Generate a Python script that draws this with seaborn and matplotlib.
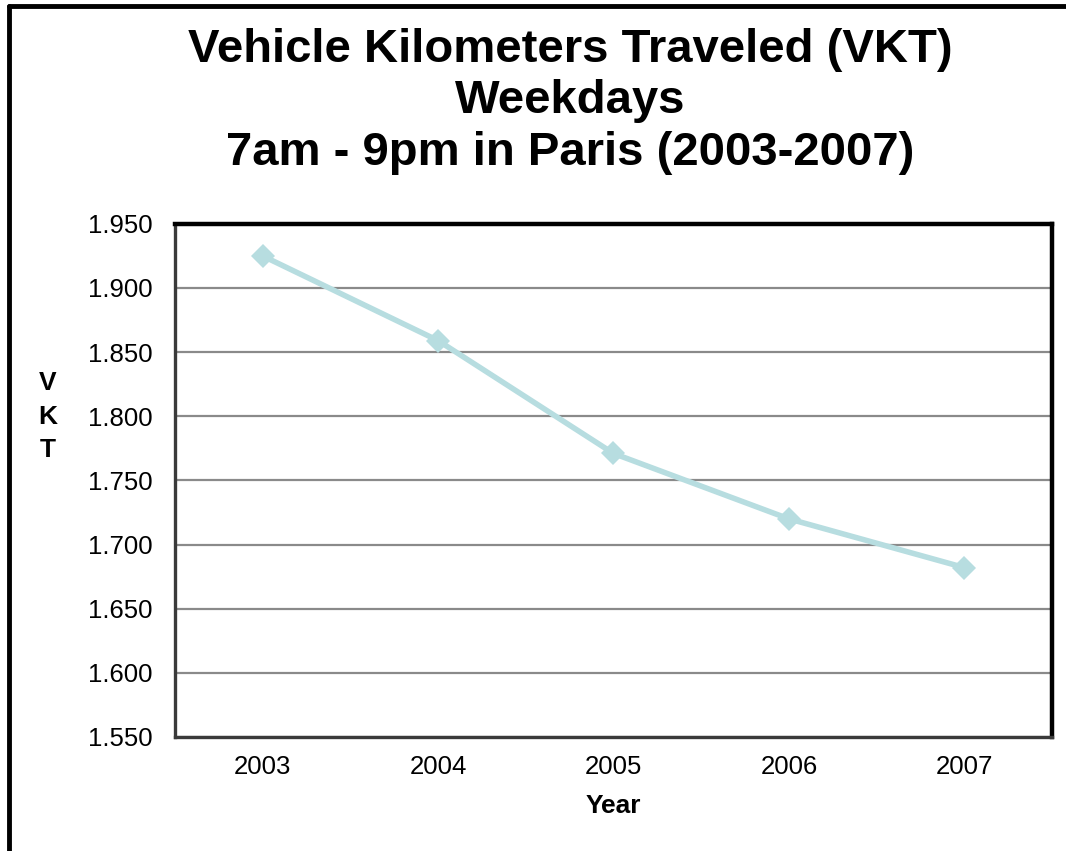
# Vehicle Kilometers Traveled (VKT) chart

import pandas as pd
import numpy as np
import matplotlib
matplotlib.use('Agg')
import matplotlib.pyplot as plt
from matplotlib.lines import Line2D
import seaborn as sns

# Data
years = ['2003', '2004', '2005', '2006', '2007']
vkt = [1.925, 1.859, 1.771, 1.720, 1.682]
y_ticks = [1.55, 1.60, 1.65, 1.70, 1.75, 1.80, 1.85, 1.90, 1.95]

df = pd.DataFrame({'pos': np.arange(len(years)), 'VKT': vkt})

sns.set_style('white')
plt.rcParams['font.family'] = ['Liberation Sans', 'DejaVu Sans']
plt.rcParams['text.color'] = 'black'
plt.rcParams['axes.labelcolor'] = 'black'
plt.rcParams['xtick.labelcolor'] = 'black'
plt.rcParams['ytick.labelcolor'] = 'black'

fig = plt.figure(figsize=(10.66, 8.51), dpi=100)
ax = fig.add_axes([0.164, 0.134, 0.823, 0.603])

# Line
sns.lineplot(data=df, x='pos', y='VKT', ax=ax, color='#b7dde0', linewidth=4,
             marker='D', markersize=12.5, markeredgewidth=0, zorder=3)

# Axes limits / ticks
ax.set_xlim(-0.5, len(years) - 0.5)
ax.set_ylim(1.55, 1.95)
ax.set_yticks(y_ticks)
ax.set_yticklabels([f'{t:.3f}' for t in y_ticks])
ax.set_xticks(np.arange(len(years)))
ax.set_xticklabels(years)
ax.set_xticks(np.arange(-0.5, len(years)), minor=True)
ax.tick_params(axis='x', which='major', length=0, pad=13, labelsize=18.5)
ax.tick_params(axis='x', which='minor', length=6, width=1.5, color='#888888', direction='out')
ax.tick_params(axis='y', length=6, width=1.5, color='#888888', direction='out', labelsize=18.5, pad=10)

ax.grid(axis='y', color='#8a8a8a', linewidth=1.6)
ax.set_axisbelow(True)

# Spines
for side in ['top', 'right']:
    ax.spines[side].set_color('black')
    ax.spines[side].set_linewidth(3.2)
for side in ['left', 'bottom']:
    ax.spines[side].set_color('#3a3a3a')
    ax.spines[side].set_linewidth(2.4)

# Labels
ax.set_xlabel('Year', fontsize=19, fontweight='bold', labelpad=11)
ax.set_ylabel('')
fig.text(0.045, 0.51, 'V\nK\nT', fontsize=19, fontweight='bold', ha='center', va='center',
         linespacing=1.5)

# Title
fig.text(0.535, 0.881, 'Vehicle Kilometers Traveled (VKT)\nWeekdays\n7am - 9pm in Paris (2003-2007)',
         fontsize=34, fontweight='bold', ha='center', va='center', linespacing=1.22)

# Outer border (left and top)
fig.add_artist(Line2D([0.0089, 0.0089], [0.0, 0.9925], color='black', linewidth=3.5,
                      transform=fig.transFigure))
fig.add_artist(Line2D([0.0089, 1.0], [0.9925, 0.9925], color='black', linewidth=3.5,
                      transform=fig.transFigure))

fig.savefig('out.png', dpi=100)
